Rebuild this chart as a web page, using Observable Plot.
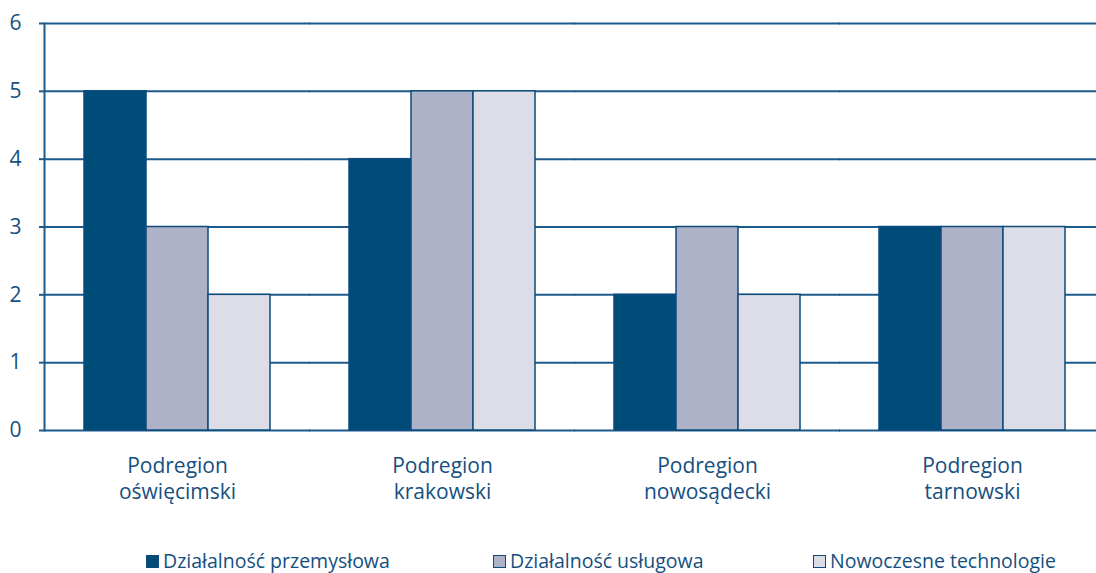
<!DOCTYPE html>
<html><head><meta charset="utf-8">
<script src="https://cdn.jsdelivr.net/npm/d3@7"></script>
<script src="https://cdn.jsdelivr.net/npm/@observablehq/plot@0.6"></script>
<style>
body{margin:0;background:#fff;font-family:"Open Sans",sans-serif;overflow:hidden;}
#wrap{position:relative;width:1096px;height:573px;}
#legend{position:absolute;left:0;top:550px;width:1096px;height:22px;}
.li{position:absolute;top:0;height:22px;line-height:22px;display:flex;align-items:center;font-size:19.5px;color:#154f80;white-space:pre;}
.sw{width:11px;height:11px;border:1.5px solid #0d4b7c;margin-right:4px;}
</style>
</head><body><div id="wrap"><div id="chart"></div><div id="legend"></div></div>
<script>
const regionLabels = ["Podregion\noświęcimski", "Podregion\nkrakowski", "Podregion\nnowosądecki", "Podregion\ntarnowski"];
const series = ["Działalność przemysłowa", "Działalność usługowa", "Nowoczesne technologie"];
const przemyslowa = [5, 4, 2, 3];
const uslugowa = [3, 5, 3, 3];
const nowoczesne = [2, 5, 2, 3];
const yTicks = [0, 1, 2, 3, 4, 5, 6];
const colors = ["#004c79", "#adb2c8", "#dcdde7"];
const legendX = [146, 493, 813];

const values = [przemyslowa, uslugowa, nowoczesne];
const data = regionLabels.flatMap((r, i) => series.map((s, j) => ({region: r, series: s, value: values[j][i]})));
const ink = "#164f80";
const grid = "#1d5a8c";
const gap = 40;

const plot = Plot.plot({
  width: 1096, height: 540,
  marginLeft: 43, marginRight: 0, marginTop: 23, marginBottom: 110,
  style: {fontFamily: "'Open Sans', sans-serif", fontSize: "20px", color: ink, background: "white", overflow: "visible"},
  fx: {domain: regionLabels, range: [43, 1106], paddingInner: 0.3, paddingOuter: 0.15, label: null},
  x: {domain: series, padding: 0, axis: null},
  y: {domain: [0, 6], label: null, axis: null},
  color: {domain: series, range: colors},
  marks: [
    Plot.ruleY(yTicks, {stroke: grid, strokeWidth: 2, insetLeft: -gap, insetRight: -gap}),
    Plot.frame({anchor: "left", facetAnchor: "left", stroke: grid, strokeWidth: 2, insetLeft: -gap}),
    Plot.axisY(yTicks, {anchor: "left", facetAnchor: "left", dx: -gap, tickSize: 5, tickPadding: 18, tickFormat: d => String(d), stroke: grid, strokeWidth: 2, fontSize: 21, fill: ink, label: null}),
    Plot.barY(data, {fx: "region", x: "series", y: "value", fill: "series", stroke: "#0d4b7c", strokeWidth: 1.5}),
    Plot.axisFx({anchor: "bottom", tickSize: 0, tickPadding: 24, fontSize: 21, lineHeight: 1.24, fill: ink, label: null})
  ]
});
document.getElementById("chart").appendChild(plot);

const leg = document.getElementById("legend");
series.forEach((s, i) => {
  const d = document.createElement("div");
  d.className = "li";
  d.style.left = legendX[i] + "px";
  d.innerHTML = `<span class="sw" style="background:${colors[i]}"></span>${s}`;
  leg.appendChild(d);
});
</script>
</body></html>
